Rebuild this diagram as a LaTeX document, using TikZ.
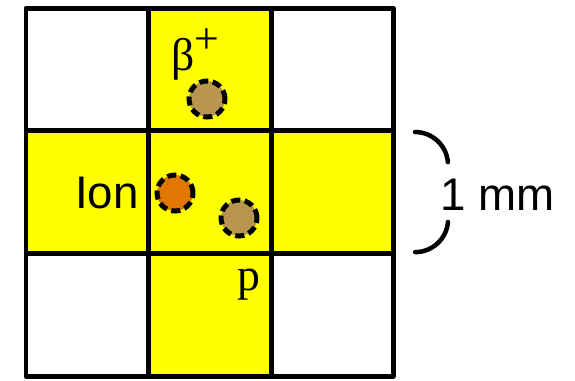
\documentclass[tikz,border=0pt]{standalone}
\usepackage{fontspec}
\setmainfont{Liberation Sans}
\newfontfamily\seriffont{Liberation Serif}
\usetikzlibrary{positioning}

\definecolor{cellyellow}{HTML}{FFFF00}
\definecolor{ionorange}{HTML}{DF7700}
\definecolor{decaytan}{HTML}{B8964F}

\begin{document}
\begin{tikzpicture}[
    x=0.02cm, y=-0.02cm,
    grid/.style={
        line width=0.1cm,
        line join=round
    },
    particle/.style={
        circle,
        draw,
        dash pattern=on 0.18cm off 0.09cm,
        line width=0.1cm,
        minimum size=0.72cm,
        inner sep=0pt
    },
    label/.style={
        inner sep=0pt,
        font=\fontsize{26}{30}\selectfont
    },
    brace/.style={
        line width=0.09cm,
        line cap=round
    }
]
\useasboundingbox (0,0) rectangle (575,380);

% yellow cross
\fill[cellyellow] (148,8) rectangle (271,376);
\fill[cellyellow] (26,130) rectangle (393,253);

% grid
\draw[grid] (26,8) rectangle (393,376);
\draw[grid] (148,8) -- (148,376);
\draw[grid] (271,8) -- (271,376);
\draw[grid] (26,130) -- (393,130);
\draw[grid] (26,253) -- (393,253);

% particles
\node[particle, fill=decaytan] (beta) at (207,99) {};
\node[particle, fill=ionorange] (ion) at (175,193) {};
\node[particle, fill=decaytan] (proton) at (239,218) {};

% labels
\node[label, anchor=base west] (betalabel) at (171,70)
{\seriffont β\raisebox{0.36em}{\fontsize{25}{28}\selectfont +}};
\node[label, anchor=base] (ionlabel) at (107,208) {Ion};
\node[label, anchor=base] (plabel) at (249,290) {\seriffont p};

% scale
\draw[brace] (415,132) arc[start angle=-90, end angle=-5, radius=33];
\draw[brace] (448,222) arc[start angle=5, end angle=90, radius=33];
\node[label, anchor=base west] (scale) at (440,210) {1 mm};
\end{tikzpicture}
\end{document}
